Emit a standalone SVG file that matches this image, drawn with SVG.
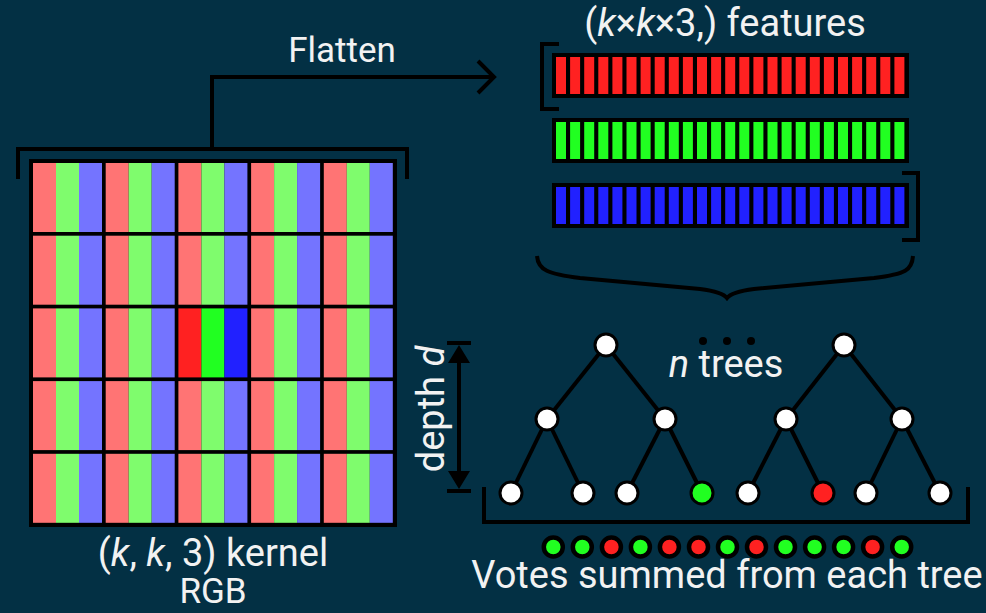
<svg xmlns="http://www.w3.org/2000/svg" width="986" height="613" viewBox="0 0 986 613">
<defs>
<style>
.t{font-family:Roboto,"Liberation Sans",sans-serif;fill:#f2f2f2;}
.i{font-style:italic;}
.ln{fill:none;stroke:#000;stroke-width:4;}
.edge{stroke:#000;stroke-width:4;}
.nd{stroke:#000;stroke-width:3;fill:#fff;}
.vt{stroke:#000;stroke-width:4.5;}
.lr{fill:#ff7474;}.lg{fill:#7ffc6d;}.lb{fill:#7474ff;}
.sr{fill:#ff2121;}.sg{fill:#21ff21;}.sb{fill:#2121ff;}
</style>
<g id="cell">
<rect x="0" y="0" width="23" height="69" class="lr"/>
<rect x="23" y="0" width="23" height="69" class="lg"/>
<rect x="46" y="0" width="23" height="69" class="lb"/>
</g>
<g id="rstripes">
<rect x="0" y="0" width="10" height="37"/><rect x="14.1" y="0" width="10" height="37"/><rect x="28.2" y="0" width="10" height="37"/><rect x="42.3" y="0" width="10" height="37"/><rect x="56.4" y="0" width="10" height="37"/><rect x="70.5" y="0" width="10" height="37"/><rect x="84.6" y="0" width="10" height="37"/><rect x="98.7" y="0" width="10" height="37"/><rect x="112.8" y="0" width="10" height="37"/><rect x="126.9" y="0" width="10" height="37"/><rect x="141" y="0" width="10" height="37"/><rect x="155.1" y="0" width="10" height="37"/><rect x="169.2" y="0" width="10" height="37"/><rect x="183.3" y="0" width="10" height="37"/><rect x="197.4" y="0" width="10" height="37"/><rect x="211.5" y="0" width="10" height="37"/><rect x="225.6" y="0" width="10" height="37"/><rect x="239.7" y="0" width="10" height="37"/><rect x="253.8" y="0" width="10" height="37"/><rect x="267.9" y="0" width="10" height="37"/><rect x="282" y="0" width="10" height="37"/><rect x="296.1" y="0" width="10" height="37"/><rect x="310.2" y="0" width="10" height="37"/><rect x="324.3" y="0" width="10" height="37"/><rect x="338.4" y="0" width="10" height="37"/>
</g>
</defs>
<rect x="0" y="0" width="986" height="613" fill="#033044"/>

<g id="kernel">
<rect x="29" y="159" width="368" height="368" fill="#000"/>
<use href="#cell" x="33" y="163"/><use href="#cell" x="105.7" y="163"/><use href="#cell" x="178.4" y="163"/><use href="#cell" x="251.1" y="163"/><use href="#cell" x="323.8" y="163"/>
<use href="#cell" x="33" y="235.7"/><use href="#cell" x="105.7" y="235.7"/><use href="#cell" x="178.4" y="235.7"/><use href="#cell" x="251.1" y="235.7"/><use href="#cell" x="323.8" y="235.7"/>
<use href="#cell" x="33" y="308.4"/><use href="#cell" x="105.7" y="308.4"/>
<rect x="178.4" y="308.4" width="23" height="69" class="sr"/><rect x="201.4" y="308.4" width="23" height="69" class="sg"/><rect x="224.4" y="308.4" width="23" height="69" class="sb"/>
<use href="#cell" x="251.1" y="308.4"/><use href="#cell" x="323.8" y="308.4"/>
<use href="#cell" x="33" y="381.1"/><use href="#cell" x="105.7" y="381.1"/><use href="#cell" x="178.4" y="381.1"/><use href="#cell" x="251.1" y="381.1"/><use href="#cell" x="323.8" y="381.1"/>
<use href="#cell" x="33" y="453.8"/><use href="#cell" x="105.7" y="453.8"/><use href="#cell" x="178.4" y="453.8"/><use href="#cell" x="251.1" y="453.8"/><use href="#cell" x="323.8" y="453.8"/>
<text class="t" x="213" y="566" font-size="38" text-anchor="middle">(<tspan class="i">k</tspan>, <tspan class="i">k</tspan>, 3) kernel</text>
<text class="t" x="213" y="603" font-size="35" text-anchor="middle">RGB</text>
</g>

<g id="features">
<text class="t" x="725" y="36" font-size="38" text-anchor="middle">(<tspan class="i">k</tspan>×<tspan class="i">k</tspan>×3,) features</text>
<rect x="552" y="53" width="357" height="45" fill="#000"/>
<use href="#rstripes" x="556" y="57" class="sr"/>
<rect x="552" y="118" width="357" height="45" fill="#000"/>
<use href="#rstripes" x="556" y="122" class="sg"/>
<rect x="552" y="183" width="357" height="45" fill="#000"/>
<use href="#rstripes" x="556" y="187" class="sb"/>
</g>

<g id="connectors">
<path class="ln" d="M18,179 V149 H407 V179"/>
<path class="ln" d="M212,149 V77 H494"/>
<path class="ln" d="M478,61 L494,77 L478,93"/>
<path class="ln" d="M559,44 H542 V109 H559"/>
<path class="ln" d="M902,173 H918 V240 H902"/>
<path class="ln" d="M537,256 C538,270 548,274 580,278 L700,289 C716,291 724,294 727,298 C730,294 738,291 754,289 L874,278 C906,274 912,270 913,256"/>
<path class="ln" d="M484,487 V522 H968 V487"/>
<line class="edge" x1="459" y1="350" x2="459" y2="484"/>
<path class="ln" d="M447,343 H471 M447,491 H471"/>
<path d="M459,345 L448,363 L470,363 Z M459,489 L448,471 L470,471 Z" fill="#000"/>
</g>

<g id="flatten-label">
<text class="t" x="342" y="62" font-size="35" text-anchor="middle">Flatten</text>
</g>

<g id="depth-label">
<text class="t" transform="translate(444,409) rotate(-90)" x="0" y="0" font-size="38" text-anchor="middle">depth <tspan class="i">d</tspan></text>
</g>

<g id="tree1">
<line class="edge" x1="606" y1="345" x2="547" y2="419"/>
<line class="edge" x1="606" y1="345" x2="665" y2="419"/>
<line class="edge" x1="547" y1="419" x2="511" y2="493"/>
<line class="edge" x1="547" y1="419" x2="583" y2="493"/>
<line class="edge" x1="665" y1="419" x2="627" y2="493"/>
<line class="edge" x1="665" y1="419" x2="702" y2="493"/>
<circle class="nd" cx="606" cy="345" r="11"/>
<circle class="nd" cx="547" cy="419" r="11"/>
<circle class="nd" cx="665" cy="419" r="11"/>
<circle class="nd" cx="511" cy="493" r="11"/>
<circle class="nd" cx="583" cy="493" r="11"/>
<circle class="nd" cx="627" cy="493" r="11"/>
<circle class="nd" cx="702" cy="493" r="11" style="fill:#21ff21"/>
</g>

<g id="tree2">
<line class="edge" x1="844" y1="345" x2="786" y2="419"/>
<line class="edge" x1="844" y1="345" x2="902" y2="419"/>
<line class="edge" x1="786" y1="419" x2="748" y2="493"/>
<line class="edge" x1="786" y1="419" x2="823" y2="493"/>
<line class="edge" x1="902" y1="419" x2="866" y2="493"/>
<line class="edge" x1="902" y1="419" x2="940" y2="493"/>
<circle class="nd" cx="844" cy="345" r="11"/>
<circle class="nd" cx="786" cy="419" r="11"/>
<circle class="nd" cx="902" cy="419" r="11"/>
<circle class="nd" cx="748" cy="493" r="11"/>
<circle class="nd" cx="823" cy="493" r="11" style="fill:#ff2121"/>
<circle class="nd" cx="866" cy="493" r="11"/>
<circle class="nd" cx="940" cy="493" r="11"/>
</g>

<g id="ntrees">
<circle cx="703" cy="341" r="4" fill="#000"/>
<circle cx="727" cy="341" r="4" fill="#000"/>
<circle cx="751" cy="341" r="4" fill="#000"/>
<text class="t" x="726" y="377" font-size="38" text-anchor="middle"><tspan class="i">n</tspan> trees</text>
</g>

<g id="votes">
<circle class="vt sg" cx="553.3" cy="547" r="9.5"/>
<circle class="vt sg" cx="582.3" cy="547" r="9.5"/>
<circle class="vt sr" cx="611.4" cy="547" r="9.5"/>
<circle class="vt sg" cx="640.4" cy="547" r="9.5"/>
<circle class="vt sr" cx="669.4" cy="547" r="9.5"/>
<circle class="vt sr" cx="698.5" cy="547" r="9.5"/>
<circle class="vt sg" cx="727.5" cy="547" r="9.5"/>
<circle class="vt sr" cx="756.5" cy="547" r="9.5"/>
<circle class="vt sg" cx="785.5" cy="547" r="9.5"/>
<circle class="vt sg" cx="814.6" cy="547" r="9.5"/>
<circle class="vt sg" cx="843.6" cy="547" r="9.5"/>
<circle class="vt sr" cx="872.6" cy="547" r="9.5"/>
<circle class="vt sg" cx="901.7" cy="547" r="9.5"/>
<text class="t" x="727" y="588" font-size="38" text-anchor="middle">Votes summed from each tree</text>
</g>
</svg>
